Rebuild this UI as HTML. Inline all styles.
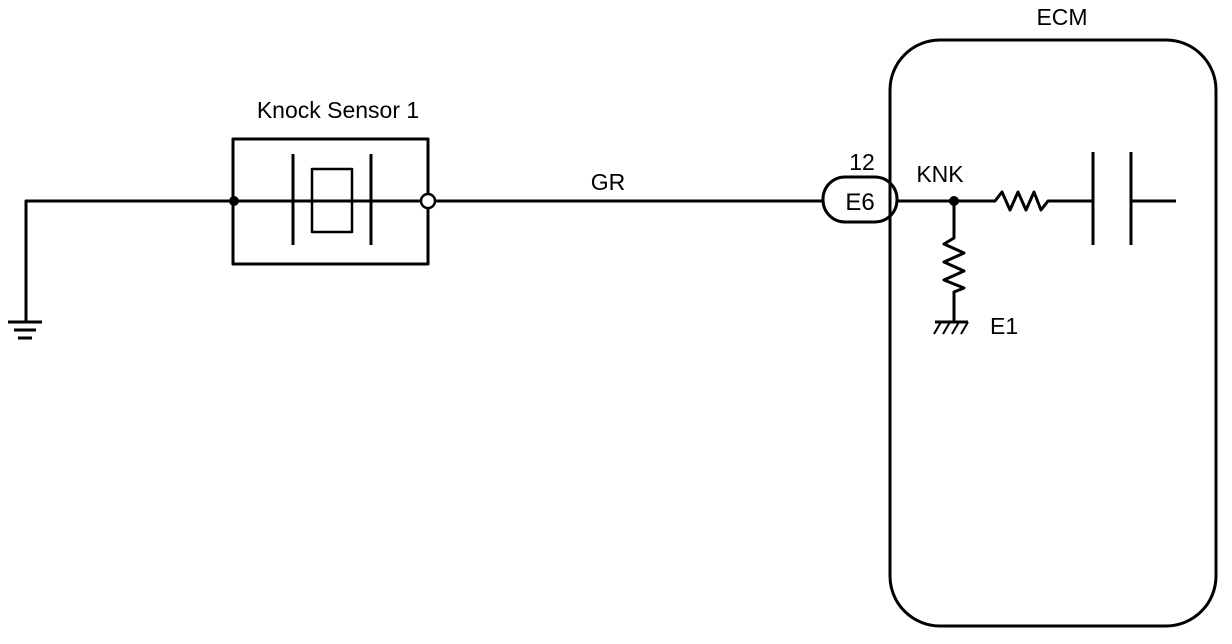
<!DOCTYPE html>
<html><head><style>body{margin:0;background:#fff}svg{display:block}text{font-family:"Liberation Sans",sans-serif;fill:#000}</style></head>
<body>
<svg width="1232" height="644" viewBox="0 0 1232 644">
<g stroke="#000" stroke-width="3" fill="none" stroke-linejoin="round">
<polyline points="26,322 26,201 420,201"/>
<line x1="8" y1="322" x2="42" y2="322"/>
<line x1="14" y1="330" x2="36" y2="330"/>
<line x1="18" y1="338" x2="32" y2="338"/>
<rect x="233" y="139" width="195" height="125"/>
<line x1="293" y1="154" x2="293" y2="245"/>
<line x1="371" y1="154" x2="371" y2="245"/>
<rect x="312" y="169" width="40" height="63" stroke-width="2.5"/>
<line x1="435" y1="201" x2="824" y2="201"/>
<rect x="823" y="177" width="74" height="45" rx="22"/>
<rect x="890" y="40" width="326" height="586" rx="50"/>
<polyline points="896,201 995,201 1002,192 1010,210 1018,192 1026,210 1034,192 1041,210 1048,201 1093,201"/>
<line x1="1093" y1="152" x2="1093" y2="245"/>
<line x1="1131" y1="152" x2="1131" y2="245"/>
<line x1="1131" y1="201" x2="1176" y2="201"/>
<polyline points="954,201 954,238 944,244 964,253 944,262 964,271 944,280 964,288 954,292 954,322"/>
<line x1="935" y1="322" x2="968" y2="322"/>
<line x1="941" y1="322" x2="934" y2="334" stroke-width="2"/>
<line x1="950" y1="322" x2="943" y2="334" stroke-width="2"/>
<line x1="959" y1="322" x2="952" y2="334" stroke-width="2"/>
<line x1="968" y1="322" x2="961" y2="334" stroke-width="2"/>
</g>
<circle cx="234" cy="201" r="5" fill="#000"/>
<circle cx="428" cy="201" r="7" fill="#fff" stroke="#000" stroke-width="2.5"/>
<circle cx="954" cy="201" r="5" fill="#000"/>
<text x="338" y="118" font-size="23" text-anchor="middle">Knock Sensor 1</text>
<text x="608" y="190" font-size="23" text-anchor="middle">GR</text>
<text x="862" y="170" font-size="23" text-anchor="middle">12</text>
<text x="860" y="210" font-size="24" text-anchor="middle">E6</text>
<text x="940" y="182" font-size="23" text-anchor="middle">KNK</text>
<text x="990" y="334" font-size="23">E1</text>
<text x="1062" y="25" font-size="23" text-anchor="middle">ECM</text>
</svg>
</body></html>
